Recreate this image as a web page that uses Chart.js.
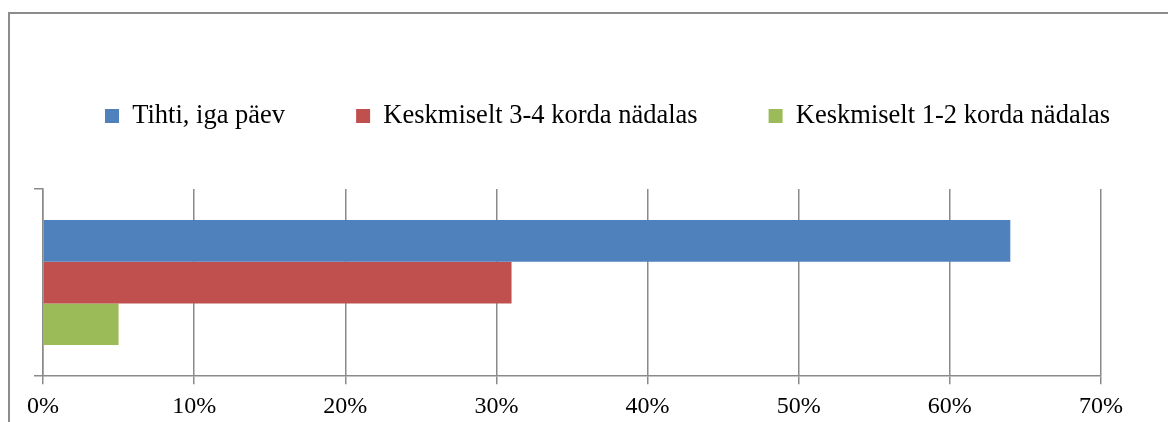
<!DOCTYPE html>
<html>
<head>
<meta charset="utf-8">
<script src="https://cdn.jsdelivr.net/npm/chart.js@4/dist/chart.umd.min.js"></script>
<style>
  html, body { margin: 0; padding: 0; background: #fff; overflow: hidden; width: 1168px; height: 422px; }
  #frame { position: absolute; left: 8px; top: 12px; width: 2000px; height: 2000px; border: 2px solid #8c8c8c; box-sizing: border-box; }
  #wrap { position: absolute; left: 0; top: 0; width: 1200px; height: 429px; }
</style>
</head>
<body>
<div id="frame"></div>
<div id="wrap"><canvas id="c" width="1200" height="429"></canvas></div>
<script>
const categories = [''];
const seriesNames = ['Tihti, iga päev', 'Keskmiselt 3-4 korda nädalas', 'Keskmiselt 1-2 korda nädalas'];
const dailyValues = [64];
const threeFourValues = [31];
const oneTwoValues = [5];
const seriesColors = ['#4F81BD', '#C0504D', '#9BBB59'];
const xTickValues = [0, 10, 20, 30, 40, 50, 60, 70];

const FONT = '"Liberation Serif", "Times New Roman", serif';
const GRID = '#8a8a8a';

new Chart(document.getElementById('c'), {
  type: 'bar',
  data: {
    labels: categories,
    datasets: [
      { label: seriesNames[0], data: dailyValues, backgroundColor: seriesColors[0], borderWidth: 0 },
      { label: seriesNames[1], data: threeFourValues, backgroundColor: seriesColors[1], borderWidth: 0 },
      { label: seriesNames[2], data: oneTwoValues, backgroundColor: seriesColors[2], borderWidth: 0 }
    ]
  },
  options: {
    indexAxis: 'y',
    responsive: false,
    animation: false,
    devicePixelRatio: 1,
    categoryPercentage: 0.668,
    barPercentage: 1,
    layout: { padding: { left: 34, right: 10, top: 31.75, bottom: 0 } },
    plugins: {
      tooltip: { enabled: false },
      legend: {
        display: true,
        position: 'top',
        align: 'start',
        labels: {
          boxWidth: 14,
          boxHeight: 14,
          padding: 71,
          color: '#000',
          font: { family: FONT, size: 26.5 }
        }
      },
      title: {
        display: true,
        text: '',
        position: 'top',
        weight: 500,
        font: { size: 10, lineHeight: 1 },
        padding: { top: 0, bottom: 39.75 }
      }
    },
    scales: {
      x: {
        type: 'linear',
        min: 0,
        max: 70,
        afterBuildTicks: (s) => { s.ticks = xTickValues.map(v => ({ value: v })); },
        ticks: {
          color: '#000',
          padding: 8,
          font: { family: FONT, size: 24 },
          callback: (v) => v + '%'
        },
        grid: { color: GRID, lineWidth: 1.5, tickLength: 8, drawTicks: true },
        border: { color: GRID, width: 1.5 }
      },
      y: {
        type: 'category',
        ticks: { display: false },
        grid: { color: GRID, lineWidth: 1.5, drawOnChartArea: false, drawTicks: true, tickLength: 9, offset: true },
        border: { color: GRID, width: 1.5 }
      },
      yRightSpace: {
        type: 'category',
        position: 'right',
        display: true,
        ticks: { display: false },
        grid: { display: false },
        border: { display: false },
        afterFit: (s) => { s.width = 89; }
      }
    }
  }
});
</script>
</body>
</html>
